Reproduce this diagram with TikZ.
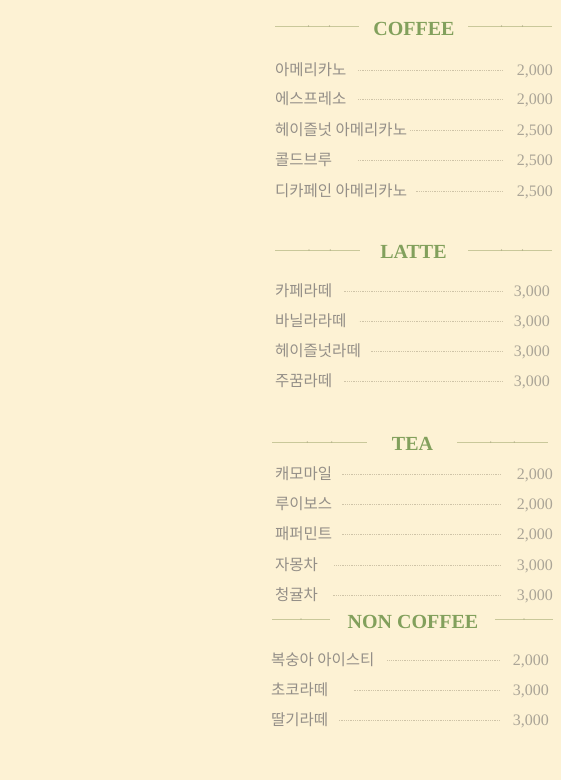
\documentclass[tikz,border=0pt]{standalone}
\usepackage{fontspec}
\setmainfont{Liberation Serif}
\newfontfamily\kor{Noto Sans CJK KR}
\usepackage{tikz}

\definecolor{bgcream}{HTML}{FDF2D4}
\definecolor{menugreen}{HTML}{82A05C}
\definecolor{namegray}{HTML}{948F88}
\definecolor{pricegray}{HTML}{ABA597}
\definecolor{dotgray}{HTML}{CFC4A8}
\definecolor{rulegreen}{HTML}{C9C89A}

\begin{document}
\begin{tikzpicture}[x=1pt,y=-1pt]
\tikzset{item/.style = {anchor=west,inner sep=0,text height=11pt,text depth=3pt,
  font=\kor\fontsize{15.5}{17}\selectfont,text=namegray}}
\tikzset{price/.style = {anchor=east,inner sep=0,text height=11pt,text depth=3pt,
  font=\fontsize{16}{18}\selectfont,text=pricegray}}
\tikzset{title/.style = {inner sep=0,font=\bfseries\fontsize{20}{22}\selectfont,text=menugreen}}
\tikzset{leader/.style = {draw=dotgray,line width=0.7pt,dash pattern=on 0.7pt off 1.1pt}}
\tikzset{rule/.style = {draw=rulegreen,line width=0.9pt}}
\tikzset{tick/.style = {circle,fill=rulegreen!80!black,inner sep=0.45pt}}
% background
\fill[bgcream] (0,0) rectangle (561,780);
\useasboundingbox (0,0) rectangle (561,780);
% coffee
\node[title] (coffee) at (414,29) {COFFEE};
\draw[rule] (275,26) -- node[tick,pos=.4]{} node[tick,pos=.65]{} (359,26);
\draw[rule] (468,26) -- node[tick,pos=.4]{} node[tick,pos=.65]{} (552,26);
\node[item] (c1) at (275,71) {아메리카노};
\node[item] (c2) at (275,100.5) {에스프레소};
\node[item] (c3) at (275,131) {헤이즐넛 아메리카노};
\node[item] (c4) at (275,161.5) {콜드브루};
\node[item] (c5) at (275,192) {디카페인 아메리카노};
\node[price] (cp1) at (553,71) {2,000};
\node[price] (cp2) at (553,100.5) {2,000};
\node[price] (cp3) at (553,131) {2,500};
\node[price] (cp4) at (553,161.5) {2,500};
\node[price] (cp5) at (553,192) {2,500};
\draw[leader] ([xshift=-14pt,yshift=1pt]cp1.west) -- ++(-145,0);
\draw[leader] ([xshift=-14pt,yshift=1pt]cp2.west) -- ++(-145,0);
\draw[leader] ([xshift=-14pt,yshift=1pt]cp3.west) -- ++(-93,0);
\draw[leader] ([xshift=-14pt,yshift=1pt]cp4.west) -- ++(-145,0);
\draw[leader] ([xshift=-14pt,yshift=1pt]cp5.west) -- ++(-87,0);
% latte
\node[title] (latte) at (413.5,251.5) {LATTE};
\draw[rule] (275,250) -- node[tick,pos=.4]{} node[tick,pos=.65]{} (360,250);
\draw[rule] (468,250) -- node[tick,pos=.4]{} node[tick,pos=.65]{} (552,250);
\node[item] (l1) at (275,292.5) {카페라떼};
\node[item] (l2) at (275,322) {바닐라라떼};
\node[item] (l3) at (275,352) {헤이즐넛라떼};
\node[item] (l4) at (275,382.5) {주꿈라떼};
\node[price] (lp1) at (550,292.5) {3,000};
\node[price] (lp2) at (550,322) {3,000};
\node[price] (lp3) at (550,352) {3,000};
\node[price] (lp4) at (550,382.5) {3,000};
\draw[leader] ([xshift=-11pt,yshift=1pt]lp1.west) -- ++(-159,0);
\draw[leader] ([xshift=-11pt,yshift=1pt]lp2.west) -- ++(-144,0);
\draw[leader] ([xshift=-11pt,yshift=1pt]lp3.west) -- ++(-133,0);
\draw[leader] ([xshift=-11pt,yshift=1pt]lp4.west) -- ++(-159,0);
% tea
\node[title] (tea) at (412.5,444) {TEA};
\draw[rule] (272,442) -- node[tick,pos=.37]{} node[tick,pos=.63]{} (367,442);
\draw[rule] (457,442) -- node[tick,pos=.37]{} node[tick,pos=.63]{} (548,442);
\node[item] (t1) at (275,475.5) {캐모마일};
\node[item] (t2) at (275,505.5) {루이보스};
\node[item] (t3) at (275,535.5) {패퍼민트};
\node[item] (t4) at (275,566) {자몽차};
\node[item] (t5) at (275,596.5) {청귤차};
\node[price] (tp1) at (553,475.5) {2,000};
\node[price] (tp2) at (553,505.5) {2,000};
\node[price] (tp3) at (553,535.5) {2,000};
\node[price] (tp4) at (553,566) {3,000};
\node[price] (tp5) at (553,596.5) {3,000};
\draw[leader] ([xshift=-16pt,yshift=1pt]tp1.west) -- ++(-159,0);
\draw[leader] ([xshift=-16pt,yshift=1pt]tp2.west) -- ++(-159,0);
\draw[leader] ([xshift=-16pt,yshift=1pt]tp3.west) -- ++(-159,0);
\draw[leader] ([xshift=-16pt,yshift=1pt]tp4.west) -- ++(-167,0);
\draw[leader] ([xshift=-16pt,yshift=1pt]tp5.west) -- ++(-168,0);
% non coffee
\node[title] (noncoffee) at (413,621.5) {NON COFFEE};
\draw[rule] (272,619) -- node[tick,pos=.5]{} (330,619);
\draw[rule] (495,619) -- node[tick,pos=.5]{} (553,619);
\node[item] (n1) at (271,661.5) {복숭아 아이스티};
\node[item] (n2) at (271,691.5) {초코라떼};
\node[item] (n3) at (271,721.5) {딸기라떼};
\node[price] (np1) at (549,661.5) {2,000};
\node[price] (np2) at (549,691.5) {3,000};
\node[price] (np3) at (549,721.5) {3,000};
\draw[leader] ([xshift=-13pt,yshift=1pt]np1.west) -- ++(-113,0);
\draw[leader] ([xshift=-13pt,yshift=1pt]np2.west) -- ++(-146,0);
\draw[leader] ([xshift=-13pt,yshift=1pt]np3.west) -- ++(-161,0);
\end{tikzpicture}
\end{document}
